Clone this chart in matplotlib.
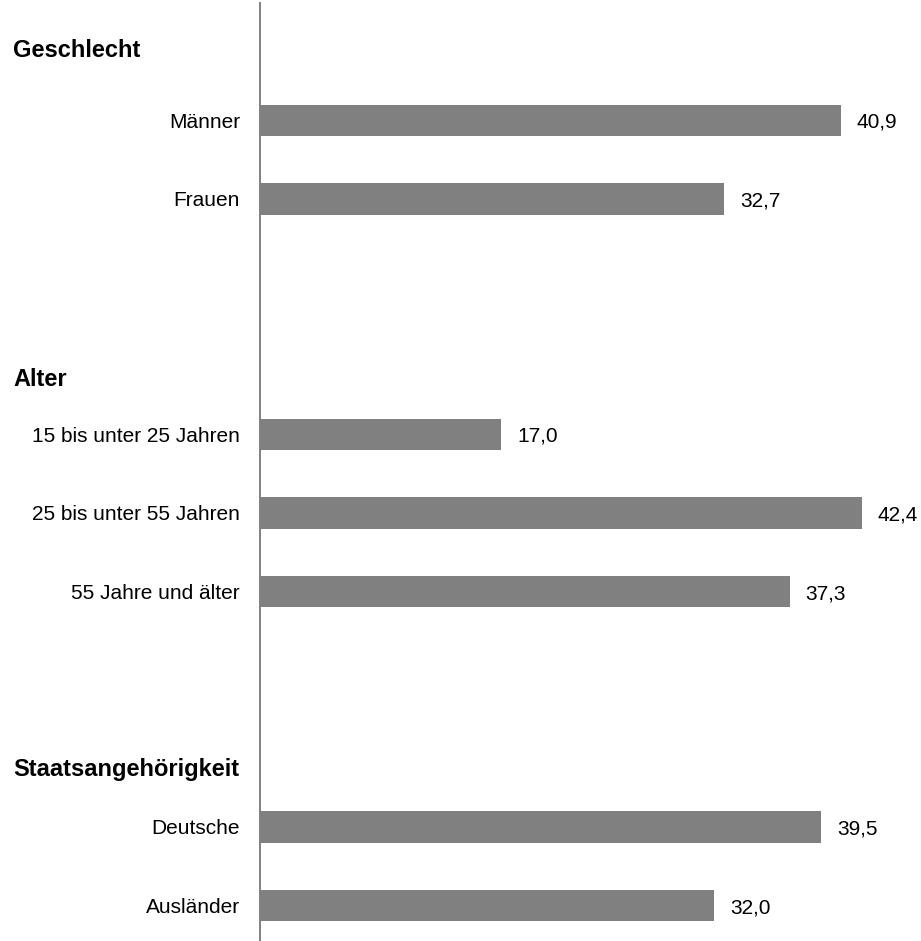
import matplotlib.pyplot as plt
import matplotlib.transforms as mtrans

plt.rcParams['font.family'] = ['Liberation Sans', 'DejaVu Sans']

# rows, top to bottom; empty strings are the gaps between groups
labels = ['Männer', 'Frauen', '', '',
          '15 bis unter 25 Jahren', '25 bis unter 55 Jahren', '55 Jahre und älter', '', '',
          'Deutsche', 'Ausländer']
values = [40.9, 32.7, None, None, 17.0, 42.4, 37.3, None, None, 39.5, 32.0]
value_text = ['40,9', '32,7', '', '', '17,0', '42,4', '37,3', '', '', '39,5', '32,0']

groups = ['Geschlecht', 'Alter', 'Staatsangehörigkeit']
group_y = [-0.805, 3.382, 8.344]

W, H = 921, 941
fig = plt.figure(figsize=(W / 100, H / 100), dpi=100)
# axes: left edge at the vertical line, y spans the whole picture
ax = fig.add_axes([259.5 / W, 1 - 940 / H, 1 - 259.5 / W, 937 / H])

ypos = list(range(len(labels)))
bar_y = [y for y, v in zip(ypos, values) if v is not None]
bar_v = [v for v in values if v is not None]
ax.barh(bar_y, bar_v, height=0.40, color='#808080', edgecolor='none')

for y, v, t in zip(ypos, values, value_text):
    if v is None:
        continue
    ax.annotate(t, (v, y), xytext=(11.5, 0), textcoords='offset points',
                ha='left', va='center_baseline', fontsize=15, color='black')

ax.set_xlim(0, (W - 259.5) / 14.21)
ax.set_ylim((940 - 120.5) / 78.5, (3 - 120.5) / 78.5)

ax.set_yticks(ypos)
ax.set_yticklabels(labels, fontsize=15)
ax.tick_params(axis='y', length=0, pad=14)
ax.set_xticks([])

for s in ['top', 'right', 'bottom']:
    ax.spines[s].set_visible(False)
ax.spines['left'].set_color('#808080')
ax.spines['left'].set_linewidth(1.4)

trans = mtrans.blended_transform_factory(fig.transFigure, ax.transData)
for g, gy in zip(groups, group_y):
    ax.text(13 / W, gy, g, transform=trans, ha='left', va='baseline',
            fontsize=17, fontweight='bold', color='black')

fig.savefig('out.png', dpi=100)
